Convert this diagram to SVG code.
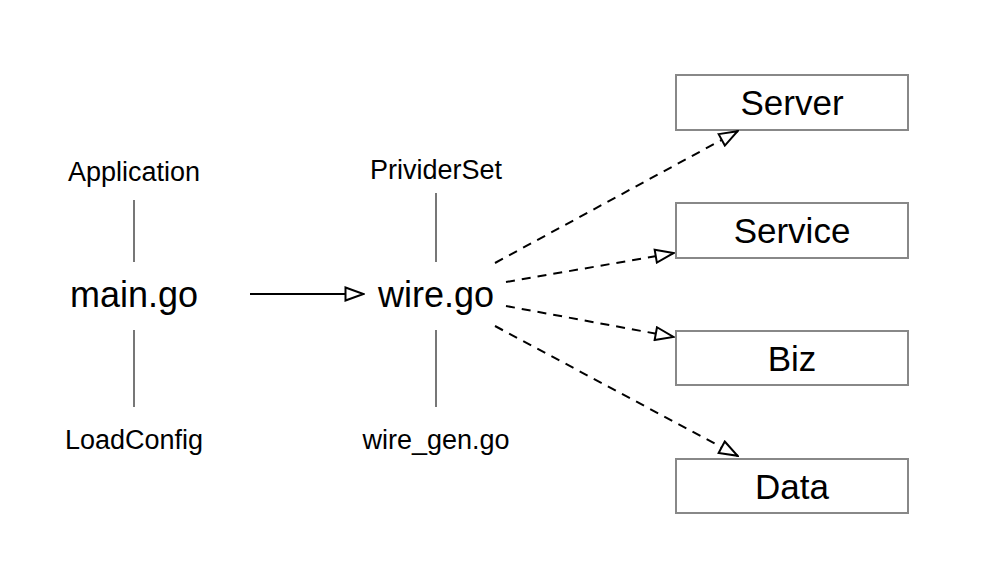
<svg xmlns="http://www.w3.org/2000/svg" width="998" height="562" viewBox="0 0 998 562">
<style>
text{font-family:"Liberation Sans",Arial,sans-serif;fill:#000;text-anchor:middle}
.big{font-size:36px}
.sm{font-size:27px}
.bx{font-size:35px}
.box{fill:#fff;stroke:#888;stroke-width:2}
.ln{stroke:#000;stroke-width:2;fill:none}
.dash{stroke-dasharray:9 7}
.tick{stroke:#777;stroke-width:2}
</style>
<defs>
<marker id="tri" viewBox="0 0 21 16" refX="20" refY="8" markerWidth="21" markerHeight="16" markerUnits="userSpaceOnUse" orient="auto">
<path d="M1.5,1.5 L19.5,8 L1.5,14.5 Z" fill="#fff" stroke="#000" stroke-width="2"/>
</marker>
</defs>
<rect width="998" height="562" fill="#fff"/>
<g id="main">
<text class="sm" x="134" y="181">Application</text>
<line class="tick" x1="134" y1="200" x2="134" y2="262"/>
<text class="big" x="134" y="307">main.go</text>
<line class="tick" x1="134" y1="330" x2="134" y2="407"/>
<text class="sm" x="134" y="449">LoadConfig</text>
</g>
<g id="wire">
<text class="sm" x="436" y="179">PrividerSet</text>
<line class="tick" x1="436" y1="193" x2="436" y2="262"/>
<text class="big" x="436" y="307">wire.go</text>
<line class="tick" x1="436" y1="330" x2="436" y2="407"/>
<text class="sm" x="436" y="449">wire_gen.go</text>
</g>
<g id="server"><rect class="box" x="676" y="75" width="232" height="55"/><text class="bx" x="792" y="115">Server</text></g>
<g id="service"><rect class="box" x="676" y="203" width="232" height="55"/><text class="bx" x="792" y="243">Service</text></g>
<g id="biz"><rect class="box" x="676" y="331" width="232" height="54"/><text class="bx" x="792" y="371">Biz</text></g>
<g id="data"><rect class="box" x="676" y="459" width="232" height="54"/><text class="bx" x="792" y="499">Data</text></g>
<g id="connectors">
<line class="ln" x1="250" y1="294" x2="364" y2="294" marker-end="url(#tri)"/>
<line class="ln dash" x1="495" y1="263" x2="738" y2="131" marker-end="url(#tri)"/>
<line class="ln dash" x1="506" y1="282" x2="674" y2="253" marker-end="url(#tri)"/>
<line class="ln dash" x1="506" y1="306" x2="674" y2="337" marker-end="url(#tri)"/>
<line class="ln dash" x1="495" y1="326" x2="738" y2="456" marker-end="url(#tri)"/>
</g>
</svg>
